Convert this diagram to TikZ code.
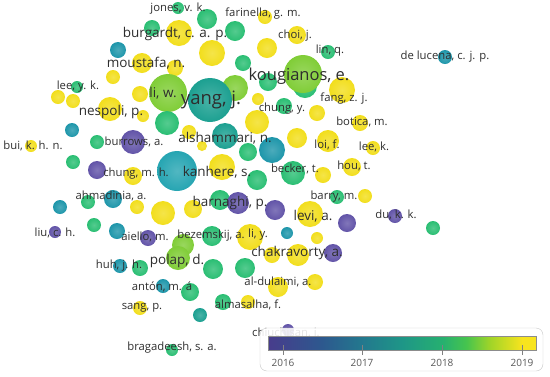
\documentclass[tikz,border=0pt]{standalone}
\usepackage{fontspec}
\setmainfont{Open Sans}
\usepackage{tikz}
\usetikzlibrary{calc}

\definecolor{cpu}{RGB}{98,84,168}   % 2016
\definecolor{ctl}{RGB}{30,150,170}  % 2017
\definecolor{cse}{RGB}{28,160,145}
\definecolor{ctk}{RGB}{38,165,178}
\definecolor{cgr}{RGB}{42,190,115}  % 2018
\definecolor{cli}{RGB}{128,205,55}
\definecolor{cye}{RGB}{242,222,28}  % 2019
\definecolor{txt}{RGB}{45,45,45}
\definecolor{vA}{RGB}{72,60,140}
\definecolor{vB}{RGB}{45,88,142}
\definecolor{vC}{RGB}{35,120,142}
\definecolor{vD}{RGB}{30,150,135}
\definecolor{vE}{RGB}{38,176,112}
\definecolor{vF}{RGB}{70,196,78}
\definecolor{vG}{RGB}{160,212,40}
\definecolor{vH}{RGB}{248,228,30}

\pgfdeclarehorizontalshading{yearbar}{100bp}{color(0bp)=(vA); color(25bp)=(vA);
  color(35bp)=(vB); color(42.5bp)=(vC); color(50bp)=(vD); color(57.5bp)=(vE);
  color(62bp)=(vF); color(66.4bp)=(vG); color(72.4bp)=(vH); color(75bp)=(vH); color(100bp)=(vH)}

\begin{document}
\begin{tikzpicture}[x=1pt, y=-1pt,
    lab/.style={text=txt, inner sep=0pt, font=\fontsize{11.3}{13}\selectfont},
    labm/.style={lab, font=\fontsize{13.5}{15}\selectfont},
    labl/.style={lab, font=\fontsize{16.5}{18}\selectfont},
    labx/.style={lab, font=\fontsize{18.5}{20}\selectfont},
    yr/.style={text=black!65, inner sep=0pt, font=\fontsize{10}{12}\selectfont}]
    \useasboundingbox(0,0)rectangle(550,376);

    % bubbles (x, y, radius, year colour)
    \foreach \x/\y/\r/\c in {
      178/8/6/cgr, 207/19/10/cgr, 152/28/8/cgr, 179/33/13/cye, 235/31/10/cgr,
      265/17/7/cye, 297/35/9/cye, 267/48/10/cye, 118/50/8/ctl, 212/53/13/cye,
      243/63/8/cgr, 142/63/10/cye, 175/68/8/cye, 113/77/7/cye, 328/52/7/cgr,
      445/57/7/ctl, 268/82/9/cgr, 305/86/12/cgr, 303/74/19/cli, 342/90/13/cye,
      77/87/6/cgr, 58/97/7/cye, 73/101/7/cye, 140/94/8/cye, 235/88/13/cli,
      168/93/19/cli, 210/100/22/cse, 258/99/6/cye, 110/109/12/cye, 143/116/6/cye,
      167/123/12/cgr, 284/106/8/cgr, 317/113/8/cye, 257/122/12/cye, 360/123/8/cye,
      72/130/7/ctl, 97/142/7/cgr, 133/142/12/cpu, 189/132/7/cye, 202/146/5/cye,
      225/136/13/cse, 297/138/10/cye, 328/141/11/cye, 373/148/7/cye, 31/146/6/cye,
      248/152/9/cgr, 272/150/13/ctl, 73/162/7/cgr, 97/170/9/cpu, 133/176/9/cye,
      177/171/20/ctk, 222/167/13/cye, 257/180/10/cgr, 293/173/12/cgr, 323/175/8/cye,
      352/167/9/cye, 60/207/7/ctl, 88/202/7/cgr, 113/199/9/ctl, 137/207/7/cye,
      163/213/12/cye, 193/209/9/cye, 220/200/10/cgr, 238/203/11/cpu, 275/210/10/cpu,
      310/214/13/cye, 337/197/7/cgr, 365/196/7/cye, 347/223/9/cpu, 395/216/7/cpu,
      433/228/7/cgr, 287/233/6/ctl, 317/238/6/cye, 55/232/6/cpu, 94/225/7/cgr,
      117/231/8/ctl, 148/238/8/cpu, 183/245/11/cli, 178/258/12/cli, 212/236/10/cgr,
      250/237/13/cye, 272/255/8/cye, 298/255/11/cye, 333/253/9/cpu, 120/266/7/ctl,
      140/268/8/cgr, 213/269/10/cgr, 245/268/10/cgr, 163/286/7/ctl, 190/292/9/cgr,
      278/287/10/cye, 315/282/8/cye, 140/308/7/cye, 200/315/7/cse, 223/302/8/cgr,
      248/302/7/cye, 288/330/6/cpu, 172/350/6/cgr}
      \path[shading=radial, inner color=\c!80!white, outer color=\c](\x,\y)circle(\r pt);

    % author labels
    \node[lab](jones)at(178,9){jones, v. k.};
    \node[lab](farinella)at(263,14){farinella, g. m.};
    \node[labm](burgardt)at(175,34){burgardt, c. a. p.};
    \node[lab](choi)at(295,36){choi, j.};
    \node[lab](lin)at(330,51){lin, q.};
    \node[lab](delucena)at(445,57){de lucena, c. j. p.};
    \node[labm](moustafa)at(146,63){moustafa, n.};
    \node[labl](kougianos)at(299,76){kougianos, e.};
    \node[lab](leeyk)at(78,87){lee, y. k.};
    \node[labm](liw)at(163,93){li, w.};
    \node[labx](yang)at(211,100){yang, j.};
    \node[lab](fang)at(344,99){fang, z. j.};
    \node[labm](nespoli)at(111,112){nespoli, p.};
    \node[lab](chungy)at(282,109){chung, y.};
    \node[lab](botica)at(362,122){botica, m.};
    \node[lab](bui)at(33,146){bui, k. h. n.};
    \node[lab](burrows)at(134,142){burrows, a.};
    \node[labm](alshammari)at(225,138){alshammari, n.};
    \node[lab](loi)at(327,145){loi, f.};
    \node[lab](leek)at(374,147){lee, k.};
    \node[lab](chungmh)at(136,174){chung, m. h.};
    \node[labm](kanhere)at(217,172){kanhere, s.};
    \node[lab](becker)at(295,169){becker, t.};
    \node[lab](hou)at(354,166){hou, t.};
    \node[lab](ahmadinia)at(111,196){ahmadinia, a.};
    \node[labm](barnaghi)at(230,203){barnaghi, p.};
    \node[lab](barry)at(334,197){barry, m.};
    \node[labm](levi)at(313,216){levi, a.};
    \node[lab](du)at(396,215){du, k. k.};
    \node[lab](liu)at(55,233){liu, c. h.};
    \node[lab](aiello)at(145,237){aiello, m.};
    \node[lab](bezemskij)at(211,236){bezemskij, a.};
    \node[lab](liy)at(258,235){li, y.};
    \node[labm](chakravorty)at(297,253){chakravorty, a.};
    \node[lab](huh)at(119,266){huh, j. h.};
    \node[labm](polap)at(177,261){polap, d.};
    \node[lab](aldulaimi)at(278,282){al-dulaimi, a.};
    \node[lab](anton)at(162,287){antón, m. á};
    \node[lab](sang)at(142,308){sang, p.};
    \node[lab](almasalha)at(248,305){almasalha, f.};
    \node[lab, anchor=west](chiu)at(252,333){chiuchisan, i.};
    \node[lab](bragadeesh)at(172,348){bragadeesh, s. a.};

    % legend
    \path[draw=black!22, fill=white, fill opacity=0.88, rounded corners=7pt](260,328)rectangle(543,371);
    \path[shading=yearbar, draw=black!45](268,336)rectangle(536,350);
    \foreach \yr/\px in {2016/283, 2017/362, 2018/442, 2019/522}{
      \path[draw, black!50](\px,345)to(\px,355);
      \node[yr](y\yr)at(\px,363){\yr};
    }
\end{tikzpicture}
\end{document}
